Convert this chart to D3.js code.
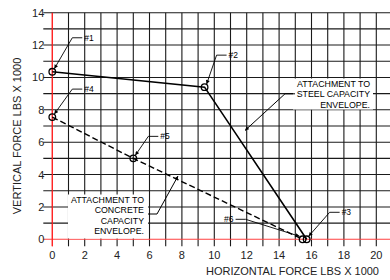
<!DOCTYPE html>
<html>
<head>
<meta charset="utf-8">
<script src="https://cdn.jsdelivr.net/npm/d3@7"></script>
<style>
  body { margin: 0; background: #fff; }
  svg { display: block; font-family: "Liberation Sans", Arial, sans-serif; }
</style>
</head>
<body>
<script>
// chart data
var xTicks = [0, 2, 4, 6, 8, 10, 12, 14, 16, 18, 20];
var yTicks = [0, 2, 4, 6, 8, 10, 12, 14];
var steelX = [0, 9.4, 15.7];
var steelY = [10.35, 9.4, 0];
var concreteX = [0, 5, 15.45];
var concreteY = [7.55, 5, 0];
var steelLabels = ['#1', '#2', '#3'];
var concreteLabels = ['#4', '#5', '#6'];
var steelNote = ['ATTACHMENT TO', 'STEEL CAPACITY', 'ENVELOPE.'];
var concreteNote = ['ATTACHMENT TO', 'CONCRETE', 'CAPACITY', 'ENVELOPE.'];

var width = 390, height = 280;

var x = d3.scaleLinear().domain([0, 20]).range([52.3, 376.3]);
var y = d3.scaleLinear().domain([0, 14]).range([239.3, 12.7]);

var svg = d3.select('body').append('svg')
	.attr('width', width)
	.attr('height', height);

svg.append('defs').append('marker')
	.attr('id', 'arrow')
	.attr('viewBox', '0 0 10 10')
	.attr('refX', 10).attr('refY', 5)
	.attr('markerWidth', 5).attr('markerHeight', 4)
	.attr('markerUnits', 'userSpaceOnUse')
	.attr('orient', 'auto')
	.append('path')
	.attr('d', 'M0,0L10,5L0,10z')
	.attr('fill', '#000');

// grid
var grid = svg.append('g');
grid.selectAll('.vline')
	.data(d3.range(0, 21))
	.enter().append('line')
	.attr('x1', function(d) { return x(d); })
	.attr('x2', function(d) { return x(d); })
	.attr('y1', y(14))
	.attr('y2', y(0) + 7)
	.attr('stroke', function(d) { return d === 0 ? '#ff2020' : '#1a1a1a'; })
	.attr('stroke-width', 1.1);

grid.selectAll('.hline')
	.data(d3.range(0, 15))
	.enter().append('line')
	.attr('x1', x(0) - 9)
	.attr('x2', width)
	.attr('y1', function(d) { return y(d); })
	.attr('y2', function(d) { return y(d); })
	.attr('stroke', function(d) { return d === 0 ? '#ff4040' : '#1a1a1a'; })
	.attr('stroke-width', 1.1);

// redraw the red x=0 line on top
grid.append('line')
	.attr('x1', x(0)).attr('x2', x(0))
	.attr('y1', y(14)).attr('y2', y(0) + 7)
	.attr('stroke', '#ff2020').attr('stroke-width', 1.1);

// tick labels
svg.selectAll('.xt')
	.data(xTicks)
	.enter().append('text')
	.attr('x', function(d) { return x(d); })
	.attr('y', y(0) + 20)
	.attr('text-anchor', 'middle')
	.style('font-size', '11px')
	.style('fill', '#222')
	.text(function(d) { return d; });

svg.selectAll('.yt')
	.data(yTicks)
	.enter().append('text')
	.attr('x', x(0) - 8)
	.attr('y', function(d) { return y(d) + 4; })
	.attr('text-anchor', 'end')
	.style('font-size', '11px')
	.style('fill', '#222')
	.text(function(d) { return d; });

// axis titles
svg.append('text')
	.attr('x', 379)
	.attr('y', 275)
	.attr('text-anchor', 'end')
	.style('font-size', '11px')
	.style('fill', '#222')
	.text('HORIZONTAL FORCE LBS X 1000');

svg.append('text')
	.attr('transform', 'translate(21,136) rotate(-90)')
	.attr('text-anchor', 'middle')
	.style('font-size', '11px')
	.style('fill', '#222')
	.text('VERTICAL FORCE LBS X 1000');

// note boxes (hide grid behind text)
function note(lines, right, top, boxX, boxW, boxH) {
	svg.append('rect')
		.attr('x', boxX).attr('y', top - 8)
		.attr('width', boxW).attr('height', boxH)
		.attr('fill', '#fff');
	svg.selectAll(null)
		.data(lines)
		.enter().append('text')
		.attr('x', right)
		.attr('y', function(d, i) { return top + i * 10.6; })
		.attr('text-anchor', 'end')
		.style('font-size', '8.8px')
		.text(function(d) { return d; });
}
note(steelNote, 370, 86.5, 293, 80, 31);
note(concreteNote, 144, 202.5, 68, 80, 44);

// note leaders
var line = d3.line();
svg.append('path')
	.attr('d', line([[295, 93.8], [285, 93.8], [245, 130.5]]))
	.attr('fill', 'none').attr('stroke', '#000').attr('stroke-width', 1)
	.attr('marker-end', 'url(#arrow)');
svg.append('path')
	.attr('d', line([[148, 214], [157, 214], [178, 176]]))
	.attr('fill', 'none').attr('stroke', '#000').attr('stroke-width', 1)
	.attr('marker-end', 'url(#arrow)');

// envelopes
var steelPts = steelX.map(function(d, i) { return [x(d), y(steelY[i])]; });
var concretePts = concreteX.map(function(d, i) { return [x(d), y(concreteY[i])]; });

svg.append('path')
	.attr('d', line(steelPts))
	.attr('fill', 'none')
	.attr('stroke', '#000')
	.attr('stroke-width', 1.6);

svg.append('path')
	.attr('d', line(concretePts))
	.attr('fill', 'none')
	.attr('stroke', '#000')
	.attr('stroke-width', 1.4)
	.attr('stroke-dasharray', '6,3');

svg.selectAll('.pt')
	.data(steelPts.concat(concretePts))
	.enter().append('circle')
	.attr('cx', function(d) { return d[0]; })
	.attr('cy', function(d) { return d[1]; })
	.attr('r', 3.3)
	.attr('fill', 'none')
	.attr('stroke', '#000')
	.attr('stroke-width', 1.3);

// point call-outs: [elbow dx, elbow dy, label side]
var callouts = [
	[20, -34, 1], [12, -32, 1], [23, -27, 1],
	[20, -28, 1], [15, -22, 1], [-57, -20, -1]
];
var allLabels = steelLabels.concat(concreteLabels);
steelPts.concat(concretePts).forEach(function(p, i) {
	var c = callouts[i];
	var ex = p[0] + c[0], ey = p[1] + c[1];
	var hx = ex + 10 * c[2];
	svg.append('path')
		.attr('d', line([[hx, ey], [ex, ey], [p[0] + (c[0] > 0 ? 2 : -3), p[1] - 3]]))
		.attr('fill', 'none').attr('stroke', '#000').attr('stroke-width', 0.9)
		.attr('marker-end', 'url(#arrow)');
	svg.append('text')
		.attr('x', hx + 2 * c[2])
		.attr('y', ey + 3)
		.attr('text-anchor', c[2] > 0 ? 'start' : 'end')
		.style('font-size', '8.5px')
		.text(allLabels[i]);
});
</script>
</body>
</html>
